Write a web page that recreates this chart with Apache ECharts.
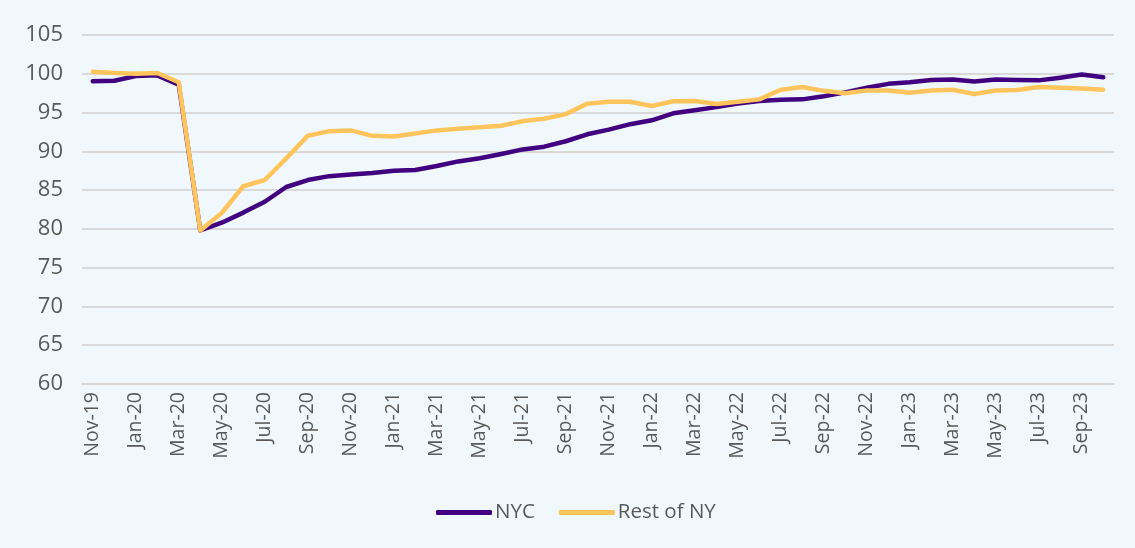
<!DOCTYPE html>
<html>
<head>
<meta charset="utf-8">
<script src="https://cdn.jsdelivr.net/npm/echarts@6/dist/echarts.min.js"></script>
<style>
  html, body { margin: 0; padding: 0; background: #f0f8fe; }
  #chart { width: 1135px; height: 548px; }
</style>
</head>
<body>
<div id="chart"></div>
<script>
// monthly, Nov-19 .. Oct-23
const months = [
  'Nov-19', 'Dec-19', 'Jan-20', 'Feb-20', 'Mar-20', 'Apr-20', 'May-20', 'Jun-20',
  'Jul-20', 'Aug-20', 'Sep-20', 'Oct-20', 'Nov-20', 'Dec-20', 'Jan-21', 'Feb-21',
  'Mar-21', 'Apr-21', 'May-21', 'Jun-21', 'Jul-21', 'Aug-21', 'Sep-21', 'Oct-21',
  'Nov-21', 'Dec-21', 'Jan-22', 'Feb-22', 'Mar-22', 'Apr-22', 'May-22', 'Jun-22',
  'Jul-22', 'Aug-22', 'Sep-22', 'Oct-22', 'Nov-22', 'Dec-22', 'Jan-23', 'Feb-23',
  'Mar-23', 'Apr-23', 'May-23', 'Jun-23', 'Jul-23', 'Aug-23', 'Sep-23', 'Oct-23'
]

const nyc = [
  99.05, 99.1, 99.7, 99.8, 98.6, 79.8, 80.8, 82.1,
  83.5, 85.4, 86.3, 86.8, 87.0, 87.2, 87.5, 87.6,
  88.1, 88.7, 89.1, 89.65, 90.25, 90.6, 91.3, 92.2,
  92.8, 93.5, 94.0, 94.9, 95.3, 95.7, 96.15, 96.5,
  96.65, 96.7, 97.1, 97.6, 98.2, 98.7, 98.9, 99.2,
  99.25, 99.0, 99.25, 99.2, 99.15, 99.5, 99.9, 99.55
]

const restOfNY = [
  100.25, 100.1, 100.0, 100.1, 98.9, 79.8, 82.05, 85.5,
  86.3, 89.1, 92.0, 92.6, 92.7, 92.0, 91.9, 92.3,
  92.7, 92.9, 93.1, 93.3, 93.9, 94.2, 94.8, 96.15,
  96.4, 96.4, 95.85, 96.45, 96.5, 96.1, 96.4, 96.7,
  97.95, 98.3, 97.8, 97.5, 97.85, 97.85, 97.55, 97.85,
  97.95, 97.4, 97.85, 97.9, 98.3, 98.2, 98.1, 97.95
]

const yTicks = { min: 60, max: 105, interval: 5 }

const labelColor = '#595959'
const fontFamily = 'Open Sans, Lato, sans-serif'

const chart = echarts.init(document.getElementById('chart'))
chart.setOption({
  backgroundColor: '#f0f8fe',
  animation: false,
  grid: {
    left: 82,
    right: 21,
    top: 35,
    bottom: 164
  },
  legend: {
    bottom: 20,
    left: 431,
    itemWidth: 56,
    itemHeight: 5,
    itemGap: 24,
    icon: 'roundRect',
    textStyle: {
      color: labelColor,
      fontSize: 20.5,
      fontFamily: fontFamily,
      padding: [0, 0, 0, -2]
    },
    data: ['NYC', 'Rest of NY']
  },
  xAxis: {
    type: 'category',
    data: months,
    boundaryGap: true,
    axisLine: {
      show: true,
      lineStyle: { color: '#d9d9d9', width: 2 }
    },
    axisTick: { show: false },
    axisLabel: {
      interval: 1,
      rotate: 90,
      margin: 8,
      color: labelColor,
      fontSize: 19.5,
      fontFamily: fontFamily
    }
  },
  yAxis: {
    type: 'value',
    min: yTicks.min,
    max: yTicks.max,
    interval: yTicks.interval,
    axisLine: { show: false },
    axisTick: { show: false },
    splitLine: {
      lineStyle: { color: '#d9d9d9', width: 2 }
    },
    axisLabel: {
      margin: 19,
      color: labelColor,
      fontSize: 22,
      fontFamily: fontFamily
    }
  },
  series: [
    {
      name: 'NYC',
      type: 'line',
      data: nyc,
      showSymbol: false,
      symbol: 'none',
      color: '#40007f',
      lineStyle: { color: '#40007f', width: 4.5, cap: 'round', join: 'round' }
    },
    {
      name: 'Rest of NY',
      type: 'line',
      data: restOfNY,
      showSymbol: false,
      symbol: 'none',
      color: '#ffc55c',
      lineStyle: { color: '#ffc55c', width: 4.5, cap: 'round', join: 'round' }
    }
  ]
})
</script>
</body>
</html>
